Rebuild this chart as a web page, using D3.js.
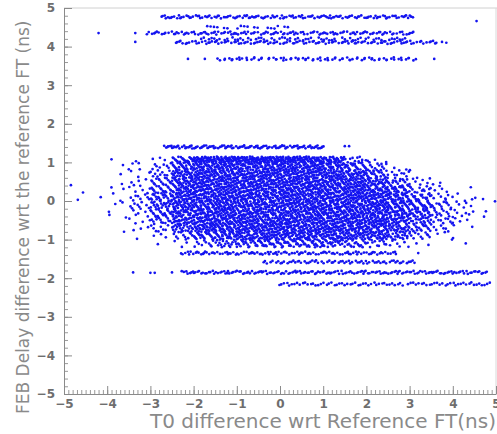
<!DOCTYPE html>
<html>
    <head>
        <meta charset="utf-8" />
        <script src="https://d3js.org/d3.v7.min.js"></script>
        <style type="text/css">
            body {
                margin: 0;
                background-color: white;
            }

            svg#mainSvg {
                width: 497px;
                height: 434px;
                display: block;
            }

            .tick text {
                font-family: "DejaVu Sans", sans-serif;
                font-size: 12px;
                font-weight: bold;
                fill: #6e6e6e;
            }

            text.title {
                font-family: "DejaVu Sans", sans-serif;
                fill: #8a8a8a;
            }
        </style>
    </head>

    <body>
        <svg id="mainSvg"></svg>

        <!-- Data -->
        <script type="text/javascript">
            // Axis ranges and tick labels (ns)
            const xDomain = [-5, 5];
            const yDomain = [-5, 5];
            const majorTicks = [-5, -4, -3, -2, -1, 0, 1, 2, 3, 4, 5];

            // Main cloud: estimated number of points in each cell
            // columns are 0.5 ns wide, rows follow cloudYEdges
            const cloudXEdges = [
                -5, -4.5, -4, -3.5, -3, -2.5, -2, -1.5, -1, -0.5, 0, 0.5, 1,
                1.5, 2, 2.5, 3, 3.5, 4, 4.5, 5,
            ];
            const cloudYEdges = [
                1.15, 1.0, 0.8, 0.6, 0.4, 0.2, 0, -0.2, -0.4, -0.6, -0.8, -1.0,
                -1.2,
            ];
            const cloudCounts = [
                [0, 0, 0, 1, 3, 22, 40, 40, 40, 40, 40, 38, 30, 10, 3, 0, 0, 0, 0, 0],
                [0, 0, 1, 2, 8, 28, 36, 36, 36, 36, 36, 36, 34, 26, 12, 2, 0, 0, 0, 0],
                [0, 0, 1, 3, 12, 32, 36, 36, 36, 36, 36, 36, 36, 32, 22, 8, 2, 0, 0, 0],
                [0, 0, 1, 4, 15, 34, 36, 36, 36, 36, 36, 36, 36, 34, 30, 18, 6, 2, 0, 0],
                [0, 0, 2, 6, 18, 34, 36, 36, 36, 36, 36, 36, 36, 36, 34, 28, 12, 4, 1, 0],
                [0, 0, 2, 8, 22, 34, 36, 36, 36, 36, 36, 36, 36, 36, 36, 32, 20, 8, 3, 1],
                [0, 0, 2, 8, 22, 34, 36, 36, 36, 36, 36, 36, 36, 36, 36, 34, 25, 12, 5, 1],
                [0, 0, 1, 6, 20, 34, 36, 36, 36, 36, 36, 36, 36, 36, 36, 34, 26, 12, 6, 1],
                [0, 0, 1, 4, 15, 30, 36, 36, 36, 36, 36, 36, 36, 36, 36, 30, 22, 10, 4, 1],
                [0, 0, 1, 3, 8, 24, 34, 36, 36, 36, 36, 36, 36, 36, 34, 28, 18, 6, 2, 0],
                [0, 0, 0, 1, 3, 12, 26, 32, 34, 34, 34, 34, 34, 32, 30, 22, 10, 3, 1, 0],
                [0, 0, 0, 0, 1, 3, 10, 18, 22, 24, 24, 24, 22, 18, 12, 6, 2, 0, 0, 0],
            ];

            // Thin horizontal bands: level, x extent, estimated point count
            const bandY = [4.77, 4.5, 4.35, 4.2, 4.11, 3.68, 1.4, -1.35, -1.58, -1.85, -2.15];
            const bandX0 = [-2.75, -1.8, -3.1, -1.9, -2.45, -1.45, -2.7, -2.3, -0.4, -2.3, -0.05];
            const bandX1 = [3.1, 0.3, 3.1, 3.0, 3.65, 3.15, 1.05, 2.7, 3.15, 4.8, 4.9];
            const bandN = [140, 18, 130, 60, 120, 80, 120, 110, 70, 170, 80];

            // Isolated points
            const strayX = [
                -4.84, -4.68, -4.56, -4.15, -3.96, -3.27, -3.9, -3.5, -4.2,
                -3.35, -3.35, -2.13, -1.74, 3.57, 4.55, -3.4, -3.0, -2.9, -2.5,
                1.5, 1.6, 3.2, 3.75, 3.85, 4.3, 4.7,
            ];
            const strayY = [
                0.41, 0.03, 0.22, 0.1, -0.28, 0.98, 1.08, 0.82, 4.35, 4.35,
                4.12, 3.68, 3.68, 3.68, 4.66, -1.85, -1.86, -1.86, -1.85, 1.42,
                1.42, -1.35, 4.12, 4.1, -1.1, 0.05,
            ];
        </script>

        <!-- Build the point list -->
        <script type="text/javascript">
            // Spread the counted points evenly inside their cell
            function halton(i, b) {
                let f = 1,
                    r = 0;
                while (i > 0) {
                    f /= b;
                    r += f * (i % b);
                    i = Math.floor(i / b);
                }
                return r;
            }

            let pts = [];
            let seq = 1;

            for (let r = 0; r < cloudCounts.length; r++) {
                const y0 = cloudYEdges[r + 1],
                    y1 = cloudYEdges[r];
                for (let c = 0; c < cloudCounts[r].length; c++) {
                    const x0 = cloudXEdges[c],
                        x1 = cloudXEdges[c + 1];
                    for (let k = 0; k < cloudCounts[r][c]; k++) {
                        pts.push([
                            x0 + halton(seq, 3) * (x1 - x0),
                            y0 + halton(seq, 5) * (y1 - y0),
                        ]);
                        seq++;
                    }
                }
            }

            for (let b = 0; b < bandY.length; b++) {
                for (let k = 0; k < bandN[b]; k++) {
                    pts.push([
                        bandX0[b] + halton(seq, 3) * (bandX1[b] - bandX0[b]),
                        bandY[b] + (halton(seq, 5) - 0.5) * 0.08,
                    ]);
                    seq++;
                }
            }

            strayX.forEach((d, i) => pts.push([d, strayY[i]]));
        </script>

        <!-- Draw -->
        <script type="text/javascript">
            const svg = d3.select(mainSvg);
            const plotLeft = 64,
                plotRight = 496,
                plotTop = 8,
                plotBottom = 394;

            const x = d3.scaleLinear().domain(xDomain).range([plotLeft, plotRight]);
            const y = d3.scaleLinear().domain(yDomain).range([plotBottom, plotTop]);

            // Frame: top and right are light
            svg.append("line")
                .attr("x1", plotLeft)
                .attr("x2", 497)
                .attr("y1", plotTop)
                .attr("y2", plotTop)
                .style("stroke", "#d0d0d0");
            svg.append("line")
                .attr("x1", plotRight)
                .attr("x2", plotRight)
                .attr("y1", plotTop)
                .attr("y2", plotBottom)
                .style("stroke", "#d8d8d8");

            // Points
            svg.append("g")
                .selectAll("circle")
                .data(pts)
                .enter()
                .append("circle")
                .attr("cx", (d) => x(d[0]))
                .attr("cy", (d) => y(d[1]))
                .attr("r", 1.35)
                .style("fill", "#1414f0");

            // Minor ticks
            const minorX = d3.range(-50, 51).map((d) => d / 10);
            const minorY = d3.range(-25, 26).map((d) => d / 5);

            svg.append("g")
                .attr("transform", "translate(0," + plotBottom + ")")
                .call(d3.axisBottom(x).tickValues(minorX).tickSize(-4).tickFormat(""))
                .call((g) => g.select(".domain").remove())
                .selectAll("line")
                .style("stroke", "#999");

            svg.append("g")
                .attr("transform", "translate(" + plotLeft + ",0)")
                .call(d3.axisLeft(y).tickValues(minorY).tickSize(-4).tickFormat(""))
                .call((g) => g.select(".domain").remove())
                .selectAll("line")
                .style("stroke", "#999");

            // Major ticks and labels
            const xAxis = svg
                .append("g")
                .attr("transform", "translate(0," + plotBottom + ")")
                .call(
                    d3.axisBottom(x).tickValues(majorTicks).tickSize(-8).tickSizeOuter(0).tickPadding(5)
                );
            const yAxis = svg
                .append("g")
                .attr("transform", "translate(" + plotLeft + ",0)")
                .call(
                    d3.axisLeft(y).tickValues(majorTicks).tickSize(-8).tickSizeOuter(0).tickPadding(9)
                );

            [xAxis, yAxis].forEach((g) => {
                g.select(".domain").style("stroke", "#8a8a8a");
                g.selectAll(".tick line").style("stroke", "#8a8a8a");
            });

            // Axis titles
            svg.append("text")
                .attr("class", "title")
                .attr("x", 496)
                .attr("y", 428)
                .attr("text-anchor", "end")
                .style("font-size", "20px")
                .text("T0 difference wrt Reference FT(ns)");

            svg.append("text")
                .attr("class", "title")
                .attr("transform", "translate(29,414) rotate(-90)")
                .attr("text-anchor", "start")
                .style("font-size", "17px")
                .text("FEB Delay difference wrt the reference FT (ns)");
        </script>
    </body>
</html>
